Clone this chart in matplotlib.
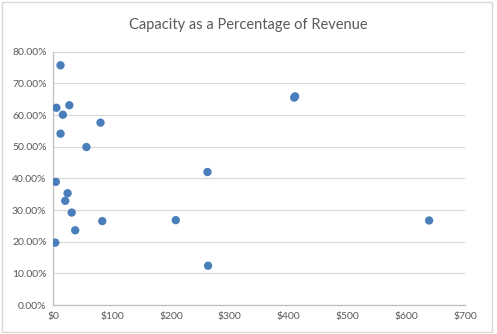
import matplotlib.pyplot as plt
from matplotlib.patches import Rectangle
from matplotlib.ticker import FuncFormatter

plt.rcParams["font.family"] = ["Lato", "DejaVu Sans"]

# revenue ($) vs capacity as a share of revenue (%)
revenue = [12, 5, 27, 16, 80, 12, 56, 262, 4, 24, 20, 31, 83, 208, 37, 3,
           263, 639, 409.5, 411]
capacity_pct = [75.7, 62.3, 63.1, 60.1, 57.6, 54.1, 49.9, 42.0, 38.9, 35.3,
                32.9, 29.2, 26.5, 26.8, 23.6, 19.7, 12.4, 26.7, 65.5, 65.9]

x_ticks = [0, 100, 200, 300, 400, 500, 600, 700]
y_ticks = [0, 10, 20, 30, 40, 50, 60, 70, 80]

fig = plt.figure(figsize=(4.97, 3.34), dpi=100)
fig.patches.append(Rectangle((0.005, 0.006), 0.984, 0.988, transform=fig.transFigure,
                             fill=False, edgecolor="#d9d9d9", lw=1.0))
ax = fig.add_axes([0.1076, 0.0868, 0.828, 0.7584])

ax.scatter(revenue, capacity_pct, s=36, color="#4a7ebb", edgecolors="none", zorder=3)

ax.set_xlim(0, 700)
ax.set_ylim(0, 80)
ax.set_xticks(x_ticks)
ax.set_yticks(y_ticks)
ax.xaxis.set_major_formatter(FuncFormatter(lambda v, _: f"${v:.0f}"))
ax.yaxis.set_major_formatter(FuncFormatter(lambda v, _: f"{v:.2f}%"))
ax.tick_params(length=0, labelsize=7.5, colors="#595959", pad=5)
ax.grid(axis="y", color="#d9d9d9", lw=0.9)
ax.set_axisbelow(True)
for side in ("top", "right"):
    ax.spines[side].set_visible(False)
for side in ("left", "bottom"):
    ax.spines[side].set_color("#bfbfbf")
    ax.spines[side].set_linewidth(0.9)

fig.text(0.5, 0.925, "Capacity as a Percentage of Revenue", ha="center", va="center",
         fontsize=10.5, color="#595959")

fig.savefig("out.png", dpi=100)
